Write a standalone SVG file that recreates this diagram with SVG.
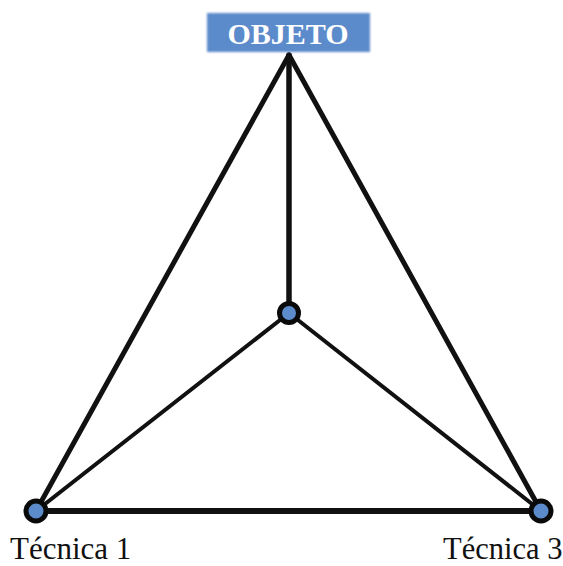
<svg xmlns="http://www.w3.org/2000/svg" width="563" height="566" viewBox="0 0 563 566">
<style>
.edge{stroke:#111;fill:none;stroke-linecap:round}
.node{fill:#5B8BCB;stroke:#0a0a0a;stroke-width:5}
.lbl{font-family:"Liberation Serif","Times New Roman",serif;fill:#111}
</style>
<defs>
<filter id="soft" x="-5%" y="-20%" width="110%" height="140%"><feGaussianBlur stdDeviation="0.8"/></filter>
</defs>
<rect width="563" height="566" fill="#fff"/>
<g id="connectors">
<line class="edge" x1="289" y1="55" x2="36" y2="511" stroke-width="5"/>
<line class="edge" x1="289" y1="55" x2="541" y2="511" stroke-width="5"/>
<line class="edge" x1="289" y1="55" x2="289" y2="313" stroke-width="5.5"/>
<line class="edge" x1="36" y1="511" x2="541" y2="511" stroke-width="6"/>
<line class="edge" x1="289" y1="313" x2="36" y2="511" stroke-width="4"/>
<line class="edge" x1="289" y1="313" x2="541" y2="511" stroke-width="4"/>
</g>
<g id="objeto">
<rect x="207" y="13" width="163" height="39" fill="#5B8BCB" filter="url(#soft)"/>
<text class="lbl" x="288" y="44" text-anchor="middle" font-size="30" font-weight="bold" style="fill:#fff">OBJETO</text>
</g>
<g id="center"><circle class="node" cx="289" cy="313" r="9.5"/></g>
<g id="tecnica1">
<circle class="node" cx="36" cy="511" r="10"/>
<text class="lbl" x="10" y="559" font-size="31">Técnica 1</text>
</g>
<g id="tecnica3">
<circle class="node" cx="541" cy="511" r="10"/>
<text class="lbl" x="443" y="559" font-size="30.5">Técnica 3</text>
</g>
</svg>
